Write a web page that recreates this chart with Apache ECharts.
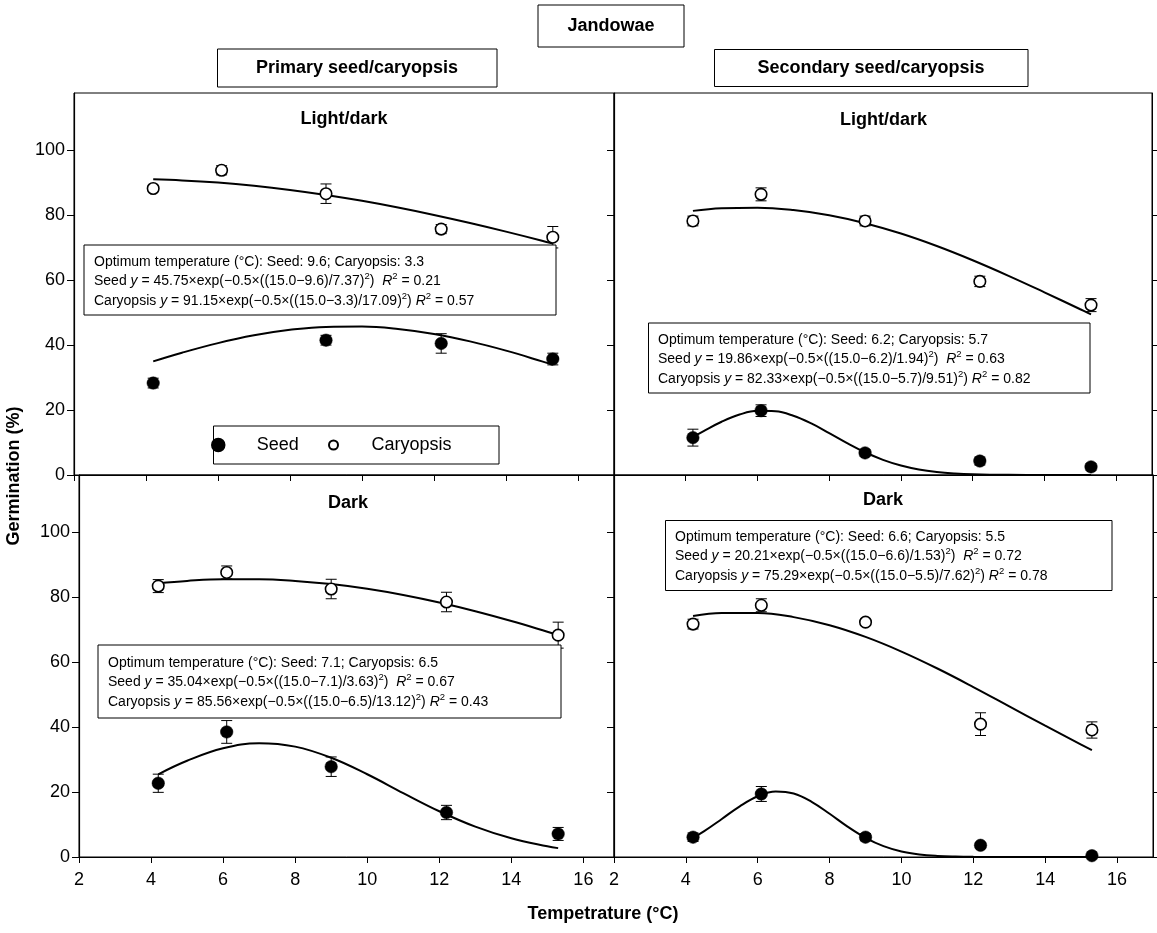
<!DOCTYPE html>
<html><head><meta charset="utf-8">
<script src="https://cdn.jsdelivr.net/npm/echarts@6/dist/echarts.min.js"></script>
<style>html,body{margin:0;padding:0;background:#fff}#c{width:1157px;height:933px}</style>
</head><body><div id="c"></div><script>
// ---------- data ----------
const temps = [4.2, 6.1, 9.0, 12.2, 15.3];
const xTickLabels = [2, 4, 6, 8, 10, 12, 14, 16];
const yTickLabels = [0, 20, 40, 60, 80, 100];

// Primary seed/caryopsis, Light/dark
const pLdSeed = [28.3, null, 41.5, 40.5, 35.7];
const pLdSeedErr = [1.5, null, 1.5, 3.0, 1.8];
const pLdCary = [88.2, 93.8, 86.6, 75.7, 73.2];
const pLdCaryErr = [1.0, 1.4, 3.0, 1.4, 3.3];
// Secondary seed/caryopsis, Light/dark
const sLdSeed = [11.5, 19.8, 6.8, 4.3, 2.5];
const sLdSeedErr = [2.6, 1.8, 1.0, 1.2, 1.0];
const sLdCary = [78.2, 86.4, 78.2, 59.6, 52.3];
const sLdCaryErr = [1.5, 2.0, 1.5, 1.6, 2.0];
// Primary, Dark
const pDSeed = [22.7, 38.5, 27.8, 13.7, 7.1];
const pDSeedErr = [2.8, 3.5, 3.0, 2.2, 2.0];
const pDCary = [83.4, 87.6, 82.5, 78.5, 68.3];
const pDCaryErr = [2.0, 2.0, 3.0, 3.0, 4.0];
// Secondary, Dark
const sDSeed = [6.1, 19.4, 6.1, 3.6, 0.4];
const sDSeedErr = [1.3, 2.3, 1.1, 0.8, 0];
const sDCary = [71.7, 77.5, 72.3, 40.9, 39.1];
const sDCaryErr = [1.5, 2.0, 1.0, 3.5, 2.5];

// fitted curves
const curveXWide = [4.2, 5, 6, 7, 8, 9, 10, 11, 12, 13, 14, 15, 15.3];
const curveXNarrow = [4.2, 4.5, 5, 5.5, 6, 6.5, 7, 7.5, 8, 8.5, 9, 9.5, 10, 10.5, 11, 11.5, 12, 13, 14, 15.3];
const pLdSeedFit = [34.98, 37.65, 40.60, 42.99, 44.68, 45.60, 45.68, 44.93, 43.39, 41.13, 38.28, 34.98, 33.92];
const pLdCaryFit = [91.02, 90.70, 90.02, 89.04, 87.77, 86.22, 84.41, 82.35, 80.07, 77.59, 74.93, 72.11, 71.24];
const sLdSeedFit = [11.67, 13.53, 16.40, 18.61, 19.75, 19.62, 18.24, 15.87, 12.91, 9.83, 7.01, 4.67, 2.92, 1.70, 0.93, 0.48, 0.23, 0.04, 0.0, 0.0];
const sLdCaryFit = [81.31, 82.11, 82.29, 81.56, 79.96, 77.52, 74.33, 70.49, 66.11, 61.32, 56.25, 51.03, 49.47];
const pDSeedFit = [25.47, 29.64, 33.47, 35.03, 33.98, 30.55, 25.47, 19.68, 14.09, 9.35, 5.75, 3.28, 2.73];
const pDCaryFit = [84.26, 85.00, 85.50, 85.50, 85.00, 84.02, 82.57, 80.67, 78.36, 75.68, 72.66, 69.36, 68.33];
const sDSeedFit = [5.91, 7.88, 11.70, 15.61, 18.71, 20.17, 19.53, 17.00, 13.30, 9.35, 5.91, 3.35, 1.71, 0.78, 0.32, 0.12, 0.04, 0.0, 0.0, 0.0];
const sDCaryFit = [74.20, 75.13, 75.13, 73.85, 71.35, 67.75, 63.24, 58.03, 52.33, 46.38, 40.41, 34.61, 32.93];

// ---------- chart ----------
const FONT = 'Liberation Sans, Arial, Helvetica, sans-serif';
const chart = echarts.init(document.getElementById('c'), null, {renderer: 'canvas'});

const grids = [
  {left: 74, top: 93, width: 540, height: 382},
  {left: 614, top: 93, width: 538, height: 382},
  {left: 79, top: 475, width: 535, height: 382},
  {left: 614, top: 475, width: 539, height: 382}
];
const xMax = [17, 17, 16.85, 17];
const yMax = 117.6;

const xAxes = grids.map((g, i) => ({
  type: 'value', gridIndex: i, min: 2, max: xMax[i], interval: 2,
  axisLine: {show: true, onZero: false, lineStyle: {color: '#000', width: 1.2}},
  axisTick: {show: true, length: 6, customValues: xTickLabels, lineStyle: {color: '#000', width: 1}},
  axisLabel: {show: i >= 2, customValues: xTickLabels, margin: 14, color: '#000', fontSize: 18, fontFamily: FONT},
  splitLine: {show: false}
}));

const yAxes = [];
grids.forEach((g, i) => {
  yAxes.push({
    type: 'value', gridIndex: i, min: 0, max: yMax, interval: 20, position: 'left',
    axisLine: {show: true, onZero: false, lineStyle: {color: '#000', width: 1.2}},
    axisTick: {show: true, length: 7, customValues: yTickLabels, lineStyle: {color: '#000', width: 1}},
    axisLabel: {show: i % 2 === 0, customValues: yTickLabels, margin: 9, color: '#000', fontSize: 18, fontFamily: FONT},
    splitLine: {show: false}
  });
});
// right-side tick axes for the right panels
[1, 3].forEach(i => {
  yAxes.push({
    type: 'value', gridIndex: i, min: 0, max: yMax, interval: 20, position: 'right',
    axisLine: {show: true, onZero: false, lineStyle: {color: '#000', width: 1}},
    axisTick: {show: true, length: 6, customValues: yTickLabels, lineStyle: {color: '#000', width: 1}},
    axisLabel: {show: false},
    splitLine: {show: false}
  });
});

function zip(xs, ys) { return xs.map((x, k) => [x, ys[k]]); }
function pts(vals) { return temps.map((t, k) => [t, vals[k]]).filter(p => p[1] != null); }
function errPts(vals, errs) { return temps.map((t, k) => [t, vals[k], errs[k]]).filter(p => p[1] != null && p[2] != null && p[2] > 0); }

function errRender(params, api) {
  const x = api.value(0), y = api.value(1), e = api.value(2);
  const a = api.coord([x, y + e]), b = api.coord([x, y - e]);
  const w = 5.5;
  const st = {stroke: '#000', lineWidth: 1};
  return {type: 'group', children: [
    {type: 'line', shape: {x1: a[0], y1: a[1], x2: b[0], y2: b[1]}, style: st},
    {type: 'line', shape: {x1: a[0] - w, y1: a[1], x2: a[0] + w, y2: a[1]}, style: st},
    {type: 'line', shape: {x1: b[0] - w, y1: b[1], x2: b[0] + w, y2: b[1]}, style: st}
  ]};
}

const panels = [
  {seed: pLdSeed, seedErr: pLdSeedErr, cary: pLdCary, caryErr: pLdCaryErr, sx: curveXWide, sf: pLdSeedFit, cx: curveXWide, cf: pLdCaryFit},
  {seed: sLdSeed, seedErr: sLdSeedErr, cary: sLdCary, caryErr: sLdCaryErr, sx: curveXNarrow, sf: sLdSeedFit, cx: curveXWide, cf: sLdCaryFit},
  {seed: pDSeed, seedErr: pDSeedErr, cary: pDCary, caryErr: pDCaryErr, sx: curveXWide, sf: pDSeedFit, cx: curveXWide, cf: pDCaryFit},
  {seed: sDSeed, seedErr: sDSeedErr, cary: sDCary, caryErr: sDCaryErr, sx: curveXNarrow, sf: sDSeedFit, cx: curveXWide, cf: sDCaryFit}
];

const series = [];
panels.forEach((p, i) => {
  const ax = {xAxisIndex: i, yAxisIndex: i};
  series.push(Object.assign({type: 'line', name: 'fitS' + i, data: zip(p.sx, p.sf), showSymbol: false, smooth: 0.4,
    lineStyle: {color: '#000', width: 2}, z: 2, silent: true}, ax));
  series.push(Object.assign({type: 'line', name: 'fitC' + i, data: zip(p.cx, p.cf), showSymbol: false, smooth: 0.4,
    lineStyle: {color: '#000', width: 2}, z: 2, silent: true}, ax));
  series.push(Object.assign({type: 'custom', name: 'errS' + i, renderItem: errRender, data: errPts(p.seed, p.seedErr),
    encode: {x: 0, y: 1}, z: 3, silent: true}, ax));
  series.push(Object.assign({type: 'custom', name: 'errC' + i, renderItem: errRender, data: errPts(p.cary, p.caryErr),
    encode: {x: 0, y: 1}, z: 3, silent: true}, ax));
  series.push(Object.assign({type: 'scatter', name: 'Seed', data: pts(p.seed), symbol: 'circle', symbolSize: 12.5,
    itemStyle: {color: '#000', borderColor: '#000', borderWidth: 0.5, opacity: 1}, z: 5}, ax));
  series.push(Object.assign({type: 'scatter', name: 'Caryopsis', data: pts(p.cary), symbol: 'circle', symbolSize: 11.5,
    itemStyle: {color: '#fff', borderColor: '#000', borderWidth: 1.6, opacity: 1}, z: 5}, ax));
});

function box(x, y, w, h) {
  return {type: 'rect', shape: {x: x, y: y, width: w, height: h}, style: {fill: '#fff', stroke: '#000', lineWidth: 1}, z: 100};
}
function label(text, x, y, size, bold, align) {
  return {type: 'text', x: x, y: y, z: 101, style: {text: text, font: (bold ? 'bold ' : '') + size + 'px ' + FONT,
    fill: '#000', align: align || 'center', verticalAlign: 'middle'}};
}
const rich = {
  i: {fontStyle: 'italic', fontSize: 14, fontFamily: FONT, lineHeight: 19.5},
  s: {fontSize: 9.5, fontFamily: FONT, verticalAlign: 'top', lineHeight: 19.5, padding: [0, 0, 0, 0]}
};
function eqText(x, y, seedOpt, caryOpt, sA, sS, sR, cA, cS, cR) {
  const t = 'Optimum temperature (°C): Seed: ' + seedOpt + '; Caryopsis: ' + caryOpt + '\n' +
    'Seed {i|y} = ' + sA + '×exp(−0.5×((15.0−' + seedOpt + ')/' + sS + '){s|2})  {i|R}{s|2} = ' + sR + '\n' +
    'Caryopsis {i|y} = ' + cA + '×exp(−0.5×((15.0−' + caryOpt + ')/' + cS + '){s|2}) {i|R}{s|2} = ' + cR;
  return {type: 'text', x: x, y: y, z: 101, style: {text: t, rich: rich, font: '14px ' + FONT, lineHeight: 19.5,
    fill: '#000', align: 'left', verticalAlign: 'top'}};
}

const graphic = [
  box(538, 5, 146, 42), label('Jandowae', 611, 26.5, 18, true),
  box(217.5, 49, 279.5, 38), label('Primary seed/caryopsis', 357, 68, 18, true),
  box(714.5, 49.5, 313.5, 37), label('Secondary seed/caryopsis', 871, 68, 18, true),
  label('Light/dark', 344, 119, 18, true),
  label('Light/dark', 883.5, 120, 18, true),
  label('Dark', 348, 503, 18, true),
  label('Dark', 883, 500, 18, true),
  {type: 'text', x: 14, y: 476, rotation: Math.PI / 2, z: 101,
    style: {text: 'Germination (%)', font: 'bold 18px ' + FONT, fill: '#000', align: 'center', verticalAlign: 'middle'}},
  label('Tempetrature (°C)', 603, 914, 18, true),
  box(84, 245, 472, 70), eqText(94, 252, '9.6', '3.3', '45.75', '7.37', '0.21', '91.15', '17.09', '0.57'),
  box(648.5, 323, 441.5, 70), eqText(658, 330, '6.2', '5.7', '19.86', '1.94', '0.63', '82.33', '9.51', '0.82'),
  box(98, 645, 463, 73), eqText(108, 653, '7.1', '6.5', '35.04', '3.63', '0.67', '85.56', '13.12', '0.43'),
  box(665.5, 520.5, 446.5, 70), eqText(675, 527, '6.6', '5.5', '20.21', '1.53', '0.72', '75.29', '7.62', '0.78'),
  box(213.5, 426, 285.5, 38)
];

const option = {
  animation: false,
  backgroundColor: '#fff',
  textStyle: {fontFamily: FONT},
  grid: grids.map(g => Object.assign({show: true, borderColor: '#000', borderWidth: 1, backgroundColor: 'transparent', containLabel: false}, g)),
  xAxis: xAxes,
  yAxis: yAxes,
  legend: [
    {data: ['Seed'], left: 211, top: 436, icon: 'circle', itemWidth: 67, itemHeight: 12.5, itemGap: 0, padding: 0,
      selectedMode: false, textStyle: {fontSize: 18, color: '#000', fontFamily: FONT}, z: 120},
    {data: ['Caryopsis'], left: 328, top: 436, icon: 'circle', itemWidth: 66, itemHeight: 9, itemGap: 0, padding: 0,
      selectedMode: false, textStyle: {fontSize: 18, color: '#000', fontFamily: FONT}, z: 120}
  ],
  graphic: graphic,
  series: series
};
chart.setOption(option);
</script></body></html>
